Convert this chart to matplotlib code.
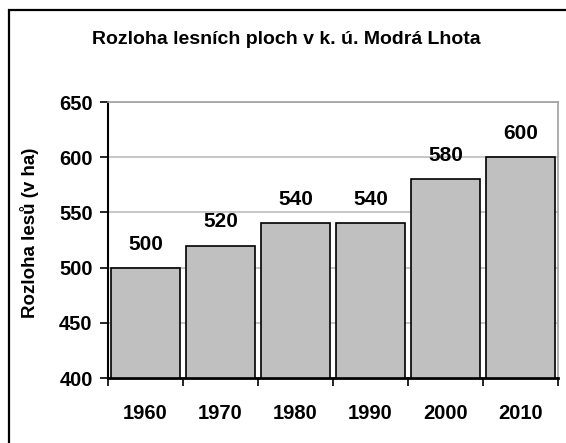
import matplotlib.pyplot as plt
from matplotlib.patches import Rectangle

plt.rcParams['font.family'] = ['Liberation Sans', 'DejaVu Sans']
plt.rcParams['font.weight'] = 'bold'

roky = ['1960', '1970', '1980', '1990', '2000', '2010']
rozloha = [500, 520, 540, 540, 580, 600]
y_ticks = [400, 450, 500, 550, 600, 650]

fig = plt.figure(figsize=(5.66, 4.43), dpi=100)
ax = fig.add_axes([108 / 566, 1 - 378 / 443, 450 / 566, 276 / 443])

# ramecek kolem celeho grafu (vpravo a dole oriznuty)
fig.patches.append(Rectangle((8.5 / 566, -0.1), 1.2, 1 - 10.5 / 443 + 0.1,
                             transform=fig.transFigure, fill=False,
                             edgecolor='black', linewidth=1.6, clip_on=False))

x = list(range(len(roky)))
ax.bar(x, [v - 400 for v in rozloha], bottom=400, width=0.91,
       color='#c0c0c0', edgecolor='black', linewidth=1.2, zorder=3)

for xi, v in zip(x, rozloha):
    ax.annotate(str(v), (xi, v), xytext=(0, 13), textcoords='offset points',
                ha='center', va='baseline', fontsize=15, fontweight='bold')

ax.set_xlim(-0.5, len(roky) - 0.5)
ax.set_ylim(400, 650)
ax.set_yticks(y_ticks)
ax.set_yticklabels([str(t) for t in y_ticks], fontsize=14.5, fontweight='bold')
ax.set_xticks(x)
ax.set_xticklabels(roky, fontsize=14.5, fontweight='bold')
ax.set_xticks([i - 0.5 for i in range(len(roky) + 1)], minor=True)
ax.tick_params(axis='x', which='major', length=0, pad=19)
ax.tick_params(axis='x', which='minor', length=6, width=1.2, direction='out')
ax.tick_params(axis='y', length=6, width=1.2, direction='out', pad=5)

ax.grid(axis='y', color='#bdbdbd', linewidth=1.2, zorder=0)
ax.spines['left'].set_linewidth(1.5)
ax.spines['bottom'].set_linewidth(2)
ax.spines['top'].set_color('#a0a0a0')
ax.spines['right'].set_color('#a0a0a0')
ax.spines['top'].set_linewidth(1.2)
ax.spines['right'].set_linewidth(1.2)

ax.set_ylabel('Rozloha lesů (v ha)', fontsize=13.5, fontweight='bold')
ax.yaxis.label.set_va('center')
ax.yaxis.set_label_coords(29.5 / 566, 1 - 233 / 443, transform=fig.transFigure)

fig.text(286 / 566, 1 - 40 / 443, 'Rozloha lesních ploch v k. ú. Modrá Lhota',
         ha='center', va='center', fontsize=14, fontweight='bold')

fig.savefig('out.png', dpi=100)
